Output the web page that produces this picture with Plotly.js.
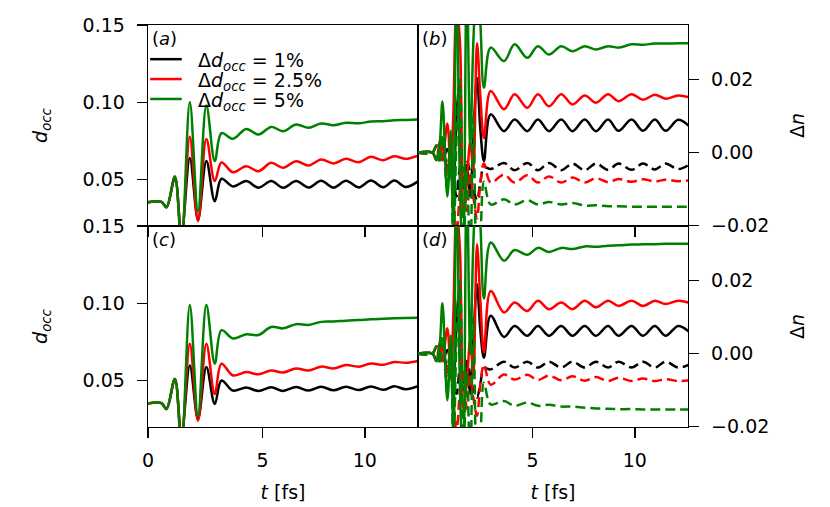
<!DOCTYPE html>
<html>
<head>
<meta charset="utf-8">
<script src="https://cdn.plot.ly/plotly-3.0.1.min.js"></script>
<style>
  html, body { margin: 0; padding: 0; background: #fff; }
  #chart { width: 830px; height: 507px; }
</style>
</head>
<body>
<div id="chart"></div>
<script>
// time grid (fs) for the d_occ panels (a), (c)
const T_LEFT = [-0.6, 0.05, 0.3, 0.71, 1.03, 1.44, 1.84, 2.25, 2.66, 2.99, 3.55, 4.2, 4.8, 5.42, 6.0,
  6.64, 7.25, 7.86, 8.47, 9.08, 9.7, 10.3, 10.9, 11.44, 12.0, 12.6];

// panel (a)
const A_BLACK = [0.0353, 0.0355, 0.0322, 0.051, 0.014, 0.064, 0.024, 0.062, 0.036, 0.0505, 0.0455, 0.049, 0.0447,
  0.049, 0.0447, 0.049, 0.0448, 0.0492, 0.0448, 0.0492, 0.0449, 0.0493, 0.045, 0.0493, 0.0452, 0.0488];
const A_RED = [0.0353, 0.0355, 0.032, 0.052, 0.012, 0.0777, 0.023, 0.0763, 0.049, 0.061, 0.0547, 0.0586, 0.0554,
  0.0608, 0.0576, 0.0619, 0.0591, 0.063, 0.0604, 0.0634, 0.0612, 0.0647, 0.0625, 0.0651, 0.0634, 0.0655];
const A_GREEN = [0.0353, 0.0355, 0.0319, 0.052, 0.008, 0.100, 0.0295, 0.098, 0.062, 0.080, 0.0764, 0.0828, 0.0791,
  0.0841, 0.0813, 0.0856, 0.0835, 0.0863, 0.0852, 0.0868, 0.0864, 0.0876, 0.0878, 0.0884, 0.0886, 0.0889];

// panel (c)
const C_BLACK = [0.0352, 0.0354, 0.0316, 0.051, 0.014, 0.0598, 0.025, 0.0587, 0.0348, 0.050, 0.0435, 0.0455, 0.0432,
  0.0457, 0.0433, 0.0458, 0.0435, 0.046, 0.0437, 0.046, 0.0438, 0.0462, 0.044, 0.0463, 0.0443, 0.0463];
const C_RED = [0.0352, 0.0354, 0.0316, 0.051, 0.012, 0.0739, 0.0239, 0.0739, 0.0413, 0.0609, 0.0533, 0.0555, 0.054,
  0.0565, 0.0552, 0.0578, 0.0565, 0.059, 0.0578, 0.060, 0.059, 0.061, 0.0602, 0.062, 0.0615, 0.0627];
const C_GREEN = [0.0352, 0.0354, 0.0316, 0.051, 0.008, 0.0989, 0.027, 0.0989, 0.0609, 0.0826, 0.0772, 0.080, 0.0795,
  0.0847, 0.0838, 0.0865, 0.086, 0.088, 0.0882, 0.0888, 0.0892, 0.0897, 0.090, 0.0903, 0.0905, 0.0907];

// time grid (fs) for the Δn panels (b), (d)
const T_RIGHT = [-0.64, 0.1, 0.3, 0.45, 0.59, 0.83, 1.0, 1.12, 1.28, 1.45, 1.6, 1.78, 1.95, 2.1, 2.28, 2.45, 2.62,
  2.95, 3.6, 4.12, 4.74, 5.26, 5.8, 6.4, 6.95, 7.55, 8.1, 8.69, 9.2, 9.84, 10.4, 10.98, 11.5, 12.12, 12.65];

// panel (b): solid and dashed Δn
const B_BLACK = [0, 0, -0.002, 0.001, -0.002, 0.001, -0.004, -0.012, 0.010, 0.020, -0.008, -0.004, -0.012, 0.004, 0.0205, 0.006, -0.0023,
  0.0105, 0.0059, 0.0091, 0.0059, 0.0091, 0.0059, 0.0091, 0.0059, 0.0091, 0.0059, 0.0091, 0.006, 0.0091, 0.006, 0.0091, 0.006, 0.009, 0.0073];
const B_BLACK_D = [0, 0, 0.002, -0.001, 0.002, -0.004, 0.002, -0.006, -0.012, -0.004, -0.010, -0.002, -0.006, -0.010, -0.013, -0.008, -0.004,
  -0.0045, -0.0028, -0.0048, -0.0028, -0.0048, -0.0028, -0.0048, -0.003, -0.0048, -0.003, -0.0047, -0.003, -0.0047, -0.003, -0.0046, -0.003, -0.0045, -0.0033];
const B_RED = [0, 0, -0.002, 0.003, -0.002, 0.008, -0.006, 0.010, 0.040, 0.030, -0.017, -0.008, 0.003, -0.005, 0.030, 0.015, 0.004,
  0.0169, 0.0119, 0.016, 0.0123, 0.016, 0.0127, 0.016, 0.0132, 0.0157, 0.0137, 0.016, 0.0141, 0.016, 0.0145, 0.0159, 0.0148, 0.0157, 0.0152];
const B_RED_D = [0, 0, 0.002, -0.002, 0.003, -0.006, 0.002, -0.012, -0.022, -0.010, -0.004, -0.016, -0.006, -0.012, -0.018, -0.008, -0.003,
  -0.0082, -0.006, -0.0082, -0.0062, -0.0082, -0.0065, -0.0082, -0.0068, -0.0082, -0.007, -0.0081, -0.0072, -0.008, -0.0073, -0.0079, -0.0074, -0.0078, -0.0076];
const B_GREEN = [0, 0, -0.002, 0.002, 0.014, -0.012, 0.006, -0.022, 0.050, -0.010, -0.030, 0.050, 0.002, 0.030, 0.050, 0.035, 0.0178,
  0.0288, 0.0251, 0.0297, 0.026, 0.0292, 0.0269, 0.0292, 0.0278, 0.0292, 0.0283, 0.0292, 0.0288, 0.0297, 0.0296, 0.0299, 0.0299, 0.030, 0.030];
const B_GREEN_D = [0, 0, 0.002, -0.003, 0.005, -0.010, -0.004, -0.030, 0.004, 0.020, -0.030, -0.005, -0.030, 0.010, -0.030, -0.022, -0.008,
  -0.0142, -0.0128, -0.0142, -0.013, -0.0142, -0.0135, -0.0142, -0.0138, -0.0145, -0.0144, -0.0147, -0.0147, -0.0148, -0.0148, -0.0148, -0.0148, -0.0148, -0.0148];

// panel (d)
const D_BLACK = [0, 0, -0.002, 0.001, -0.002, 0.001, -0.004, -0.011, 0.009, 0.019, -0.008, -0.004, -0.011, 0.004, 0.019, 0.006, -0.0011,
  0.0104, 0.0046, 0.0076, 0.0049, 0.0076, 0.0049, 0.0076, 0.0049, 0.0076, 0.0049, 0.0076, 0.0049, 0.0076, 0.0049, 0.0076, 0.0049, 0.0076, 0.006];
const D_BLACK_D = [0, 0, 0.002, -0.001, 0.002, -0.004, 0.002, -0.006, -0.011, -0.004, -0.010, -0.002, -0.006, -0.010, -0.012, -0.008, -0.004,
  -0.0043, -0.0022, -0.0038, -0.0022, -0.0038, -0.0022, -0.0038, -0.0022, -0.0038, -0.0022, -0.0038, -0.0022, -0.0038, -0.0022, -0.0038, -0.0022, -0.0038, -0.003];
const D_RED = [0, 0, -0.002, 0.003, -0.002, 0.007, -0.006, 0.010, 0.040, 0.028, -0.015, -0.008, 0.004, -0.006, 0.030, 0.014, 0.0003,
  0.0172, 0.0113, 0.014, 0.0117, 0.0145, 0.0122, 0.014, 0.0122, 0.0145, 0.0127, 0.0145, 0.0131, 0.0145, 0.0131, 0.0145, 0.0136, 0.0145, 0.014];
const D_RED_D = [0, 0, 0.002, -0.002, 0.003, -0.006, 0.002, -0.012, -0.021, -0.010, -0.004, -0.015, -0.006, -0.012, -0.017, -0.008, -0.003,
  -0.0085, -0.0057, -0.0071, -0.0058, -0.0072, -0.006, -0.0073, -0.0062, -0.0074, -0.0064, -0.0075, -0.0066, -0.0075, -0.0068, -0.0075, -0.007, -0.0075, -0.0073];
const D_GREEN = [0, 0, -0.002, 0.002, 0.0138, -0.0128, 0.005, -0.022, 0.050, -0.010, -0.030, 0.050, 0.0, 0.030, 0.050, 0.035, 0.0151,
  0.0305, 0.0255, 0.0284, 0.0271, 0.029, 0.0279, 0.029, 0.0287, 0.0294, 0.0293, 0.0296, 0.0297, 0.0299, 0.030, 0.030, 0.0301, 0.0301, 0.0301];
const D_GREEN_D = [0, 0, 0.002, -0.003, 0.005, -0.010, -0.004, -0.030, 0.004, 0.020, -0.030, -0.005, -0.030, 0.010, -0.030, -0.022, -0.008,
  -0.0139, -0.013, -0.0143, -0.0134, -0.0143, -0.014, -0.0145, -0.0145, -0.0148, -0.015, -0.0151, -0.0152, -0.0152, -0.0153, -0.0153, -0.0153, -0.0153, -0.0153];

const COLORS = ['#000000', '#ff0000', '#008000'];
const LEGEND_LABELS = ['Δ<i>d</i><sub><i>occ</i></sub> = 1%', 'Δ<i>d</i><sub><i>occ</i></sub> = 2.5%', 'Δ<i>d</i><sub><i>occ</i></sub> = 5%'];
const PANEL_LABELS = ['(<i>a</i>)', '(<i>b</i>)', '(<i>c</i>)', '(<i>d</i>)'];
const X_TICKVALS_LEFT = [-0.6, 5, 10];
const X_TICKTEXT_LEFT = ['0', '5', '10'];
const X_TICKVALS_RIGHT = [5, 10];
const X_TICKTEXT_RIGHT = ['5', '10'];
const DOCC_TICKVALS = [0.05, 0.10, 0.15];
const DOCC_TICKTEXT = ['0.05', '0.10', '0.15'];
const DN_TICKVALS = [-0.02, 0.00, 0.02];
const DN_TICKTEXT = ['\u22120.02', '0.00', '0.02'];

const FONT = 'DejaVu Sans, Liberation Sans, sans-serif';
const LW = 2.5;

function trace(x, y, color, dash, xa, ya) {
  return {
    x: x, y: y, type: 'scatter', mode: 'lines',
    line: { color: color, width: LW, dash: dash, shape: 'spline', smoothing: 1 },
    xaxis: xa, yaxis: ya, showlegend: false, hoverinfo: 'skip'
  };
}

const DASH = '10px,5px';
const traces = [
  trace(T_LEFT, A_BLACK, COLORS[0], 'solid', 'x', 'y'),
  trace(T_LEFT, A_RED, COLORS[1], 'solid', 'x', 'y'),
  trace(T_LEFT, A_GREEN, COLORS[2], 'solid', 'x', 'y'),
  trace(T_LEFT, C_BLACK, COLORS[0], 'solid', 'x3', 'y3'),
  trace(T_LEFT, C_RED, COLORS[1], 'solid', 'x3', 'y3'),
  trace(T_LEFT, C_GREEN, COLORS[2], 'solid', 'x3', 'y3'),
  trace(T_RIGHT, B_BLACK, COLORS[0], 'solid', 'x2', 'y2'),
  trace(T_RIGHT, B_BLACK_D, COLORS[0], DASH, 'x2', 'y2'),
  trace(T_RIGHT, B_RED, COLORS[1], 'solid', 'x2', 'y2'),
  trace(T_RIGHT, B_RED_D, COLORS[1], DASH, 'x2', 'y2'),
  trace(T_RIGHT, B_GREEN, COLORS[2], 'solid', 'x2', 'y2'),
  trace(T_RIGHT, B_GREEN_D, COLORS[2], DASH, 'x2', 'y2'),
  trace(T_RIGHT, D_BLACK, COLORS[0], 'solid', 'x4', 'y4'),
  trace(T_RIGHT, D_BLACK_D, COLORS[0], DASH, 'x4', 'y4'),
  trace(T_RIGHT, D_RED, COLORS[1], 'solid', 'x4', 'y4'),
  trace(T_RIGHT, D_RED_D, COLORS[1], DASH, 'x4', 'y4'),
  trace(T_RIGHT, D_GREEN, COLORS[2], 'solid', 'x4', 'y4'),
  trace(T_RIGHT, D_GREEN_D, COLORS[2], DASH, 'x4', 'y4')
];

const tickFont = { family: FONT, size: 19, color: '#000' };
const titleFont = { family: FONT, size: 19, color: '#000' };

function xAxis(domain, anchor, vals, text, labels) {
  const ax = {
    domain: domain, anchor: anchor, range: [-0.605, 12.6],
    tickmode: 'array', tickvals: vals, ticktext: text, showticklabels: labels,
    ticks: 'outside', ticklen: 10, tickwidth: 1.5, tickcolor: '#000',
    ticklabelstandoff: 6,
    showline: true, linecolor: '#000', linewidth: 1.3, mirror: true,
    showgrid: false, zeroline: false, tickfont: tickFont
  };
  if (labels) ax.title = { text: '<i>t</i> [fs]', font: titleFont, standoff: 15 };
  return ax;
}

function yAxis(domain, anchor, side, range, vals, text, title, standoff) {
  return {
    domain: domain, anchor: anchor, side: side, range: range,
    tickmode: 'array', tickvals: vals, ticktext: text,
    ticks: 'outside', ticklen: 10, tickwidth: 1.5, tickcolor: '#000',
    ticklabelstandoff: 8,
    showline: true, linecolor: '#000', linewidth: 1.3, mirror: true,
    showgrid: false, zeroline: false, tickfont: tickFont,
    title: { text: title, font: titleFont, standoff: standoff }
  };
}

const DOCC_RANGE = [0.0199, 0.1501];
const DN_RANGE = [-0.0201, 0.035];
const DOCC_TITLE = '<i>d</i><sub><i>occ</i></sub>';
const DN_TITLE = 'Δ<i>n</i>';

const annotations = PANEL_LABELS.map((txt, i) => ({
  text: txt, xref: ['x', 'x2', 'x3', 'x4'][i] + ' domain', yref: ['y', 'y2', 'y3', 'y4'][i] + ' domain',
  x: 0.008, y: 0.995, xanchor: 'left', yanchor: 'top', showarrow: false,
  font: { family: FONT, size: 18, color: '#000' }
}));

// hand-built legend inside panel (a)
const shapes = [];
LEGEND_LABELS.forEach((lbl, i) => {
  const yy = 0.83 - i * 0.099;
  shapes.push({
    type: 'line', xref: 'x domain', yref: 'y domain',
    x0: 0.008, x1: 0.125, y0: yy, y1: yy,
    line: { color: COLORS[i], width: LW }
  });
  annotations.push({
    text: lbl, xref: 'x domain', yref: 'y domain', x: 0.18, y: yy - 0.012,
    xanchor: 'left', yanchor: 'middle', showarrow: false, borderpad: 0,
    font: { family: FONT, size: 19, color: '#000' }
  });
});

const layout = {
  width: 830, height: 507,
  margin: { l: 148, r: 142, t: 25, b: 80 },
  paper_bgcolor: '#fff', plot_bgcolor: '#fff',
  font: { family: FONT, color: '#000' },
  showlegend: false,
  xaxis: xAxis([0, 0.5], 'y', X_TICKVALS_LEFT, X_TICKTEXT_LEFT, false),
  xaxis2: xAxis([0.5, 1], 'y2', X_TICKVALS_RIGHT, X_TICKTEXT_RIGHT, false),
  xaxis3: xAxis([0, 0.5], 'y3', X_TICKVALS_LEFT, X_TICKTEXT_LEFT, true),
  xaxis4: xAxis([0.5, 1], 'y4', X_TICKVALS_RIGHT, X_TICKTEXT_RIGHT, true),
  yaxis: yAxis([0.5, 1], 'x', 'left', DOCC_RANGE, DOCC_TICKVALS, DOCC_TICKTEXT, DOCC_TITLE, 30),
  yaxis2: yAxis([0.5, 1], 'x2', 'right', DN_RANGE, DN_TICKVALS, DN_TICKTEXT, DN_TITLE, 22),
  yaxis3: yAxis([0, 0.5], 'x3', 'left', DOCC_RANGE, DOCC_TICKVALS, DOCC_TICKTEXT, DOCC_TITLE, 30),
  yaxis4: yAxis([0, 0.5], 'x4', 'right', DN_RANGE, DN_TICKVALS, DN_TICKTEXT, DN_TITLE, 22),
  annotations: annotations,
  shapes: shapes
};

Plotly.newPlot('chart', traces, layout, { displayModeBar: false, staticPlot: true });
</script>
</body>
</html>
